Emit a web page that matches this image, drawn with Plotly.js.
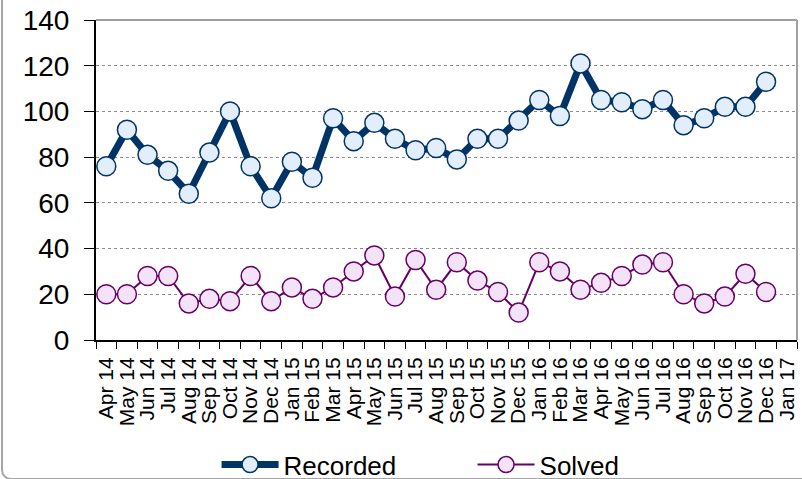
<!DOCTYPE html>
<html>
<head>
<meta charset="utf-8">
<script src="https://cdn.plot.ly/plotly-3.0.1.min.js"></script>
<style>
  html, body { margin: 0; padding: 0; background: #fff; }
  #wrap { position: relative; width: 802px; height: 479px; overflow: hidden; }
  #chart { width: 802px; height: 479px; }
  #frame { position: absolute; left: 1px; top: -30px; width: 900px; height: 510px;
           border: 2px solid #a6a6a6; border-radius: 10px; box-sizing: border-box; pointer-events: none; }
</style>
</head>
<body>
<div id="wrap">
  <div id="chart"></div>
  <div id="frame"></div>
</div>
<script>
const months = ["Apr 14","May 14","Jun 14","Jul 14","Aug 14","Sep 14","Oct 14","Nov 14","Dec 14",
  "Jan 15","Feb 15","Mar 15","Apr 15","May 15","Jun 15","Jul 15","Aug 15","Sep 15","Oct 15","Nov 15","Dec 15",
  "Jan 16","Feb 16","Mar 16","Apr 16","May 16","Jun 16","Jul 16","Aug 16","Sep 16","Oct 16","Nov 16","Dec 16",
  "Jan 17"];
const dataMonths = months.slice(0, 33);
const recorded = [76,92,81,74,64,82,100,76,62,78,71,97,87,95,88,83,84,79,88,88,96,105,98,121,105,104,101,105,94,97,102,102,113];
const solved   = [20,20,28,28,16,18,17,28,17,23,18,23,30,37,19,35,22,34,26,21,12,34,30,22,25,28,33,34,20,16,19,29,21];
const yTicks = [0,20,40,60,80,100,120,140];

const FONT = "Liberation Sans, Arial, sans-serif";

const traces = [
  {
    x: dataMonths, y: recorded, name: "Recorded", type: "scatter", mode: "lines+markers",
    line: { color: "#003366", width: 7 },
    marker: { size: 19, color: "#e2eefb", line: { color: "#003366", width: 1.5 } }
  },
  {
    x: dataMonths, y: solved, name: "Solved", type: "scatter", mode: "lines+markers",
    line: { color: "#660066", width: 2 },
    marker: { size: 19, color: "#f3e2f8", line: { color: "#660066", width: 1.5 } }
  }
];

const layout = {
  width: 802, height: 479,
  margin: { l: 96, r: 5, t: 20, b: 139, pad: 0 },
  paper_bgcolor: "#ffffff", plot_bgcolor: "#ffffff",
  font: { family: FONT, color: "#000" },
  showlegend: true,
  xaxis: {
    type: "category", categoryorder: "array", categoryarray: months,
    tickvals: months, ticktext: months,
    range: [-0.5, 33.5], tickson: "boundaries",
    ticks: "outside", ticklen: 7, tickwidth: 1, tickcolor: "#000",
    showline: true, linecolor: "#000", linewidth: 2,
    showgrid: false, zeroline: false, tickangle: -90,
    tickfont: { family: FONT, size: 21, color: "#000" },
    ticklabelstandoff: 7,
    fixedrange: true
  },
  yaxis: {
    range: [0, 140], tickvals: yTicks, ticktext: yTicks.map(String),
    ticks: "outside", ticklen: 10, tickwidth: 1, tickcolor: "#000",
    showline: true, linecolor: "#000", linewidth: 2,
    showgrid: true, gridcolor: "#8c8c8c", gridwidth: 1, griddash: "dot",
    zeroline: false, tickfont: { family: FONT, size: 28, color: "#000" },
    ticklabelstandoff: 9,
    fixedrange: true
  },
  shapes: [
    { type: "line", xref: "paper", yref: "paper", x0: 0, x1: 1, y0: 1, y1: 1, line: { color: "#a0a0a0", width: 2 } },
    { type: "line", xref: "paper", yref: "paper", x0: 1, x1: 1, y0: 0, y1: 1, line: { color: "#a0a0a0", width: 2 } }
  ],
  legend: {
    orientation: "h", xref: "container", yref: "container",
    x: 0.27, y: 0.03, xanchor: "left", yanchor: "middle",
    font: { family: FONT, size: 26, color: "#000" },
    itemwidth: 57, entrywidth: 184, entrywidthmode: "pixels",
    bgcolor: "rgba(0,0,0,0)"
  }
};

Plotly.newPlot("chart", traces, layout, { displayModeBar: false, staticPlot: true });
</script>
</body>
</html>
